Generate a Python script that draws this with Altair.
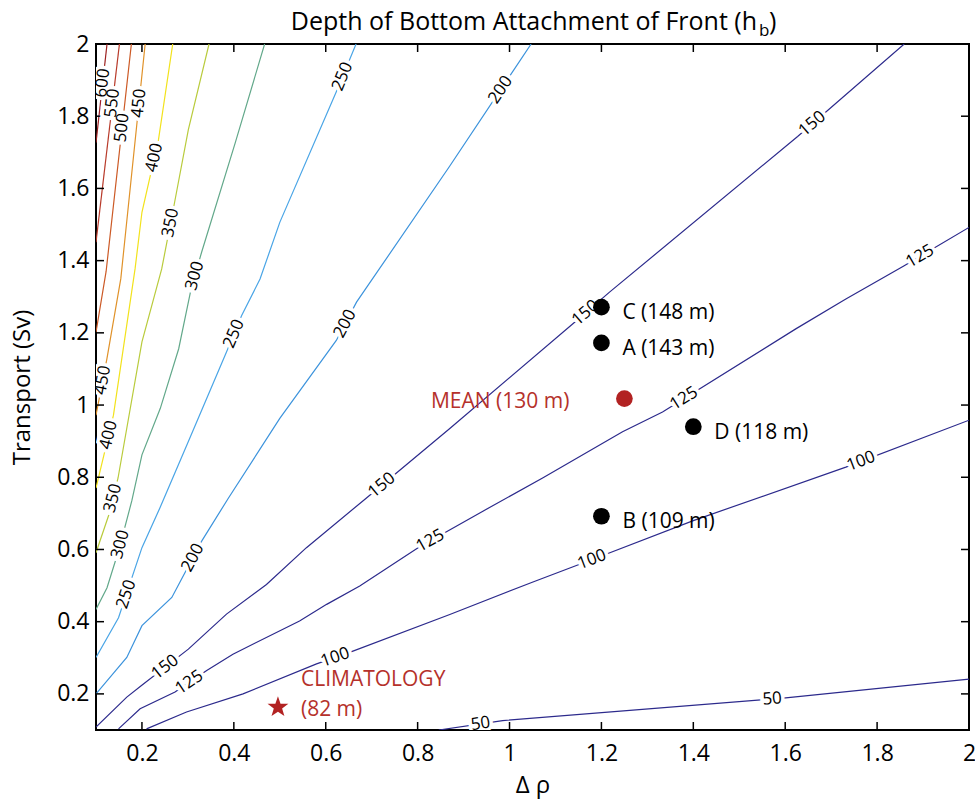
import math
import altair as alt
import pandas as pd

FONT = "Open Sans"
W, H = 873, 686

# ---------------- data ----------------
LEVELS = [50, 100, 125, 150, 200, 250, 300, 350, 400, 450, 500, 550, 600]
COLORS = ["#2c2a8c", "#2c2a8c", "#2c2a8c", "#2c2a8c", "#3c93dc", "#4aa5e6",
          "#62a88a", "#b9cb3c", "#f2e21c", "#e0922a", "#cc5a26", "#b83a2a", "#9c2020"]

# contour paths (delta rho, transport), from top to bottom
C600 = [(0.124, 2.0), (0.1, 1.727)]
C550 = [(0.151, 2.0), (0.1, 1.451)]
C500 = [(0.177, 2.0), (0.122, 1.37), (0.1, 1.202)]
C450 = [(0.207, 2.0), (0.154, 1.35), (0.124, 1.13), (0.1, 0.972)]
C400 = [(0.267, 2.0), (0.236, 1.735), (0.2, 1.534), (0.185, 1.377), (0.138, 0.972), (0.1, 0.770)]
C350 = [(0.346, 2.0), (0.301, 1.763), (0.271, 1.561), (0.243, 1.377), (0.2, 1.175),
        (0.148, 0.798), (0.128, 0.696), (0.1, 0.591)]
C300 = [(0.467, 2.0), (0.403, 1.726), (0.330, 1.424), (0.307, 1.322), (0.280, 1.156),
        (0.240, 0.991), (0.2, 0.862), (0.178, 0.735), (0.150, 0.60), (0.124, 0.494), (0.1, 0.434)]
C250 = [(0.666, 2.0), (0.623, 1.868), (0.5, 1.506), (0.457, 1.349), (0.417, 1.248),
        (0.384, 1.147), (0.301, 0.899), (0.239, 0.715), (0.2, 0.605), (0.149, 0.411), (0.1, 0.301)]
C200 = [(1.047, 2.0), (0.870, 1.662), (0.667, 1.285), (0.623, 1.179), (0.5, 0.963),
        (0.388, 0.742), (0.330, 0.623), (0.265, 0.467), (0.2, 0.389), (0.167, 0.301), (0.1, 0.2)]
C150 = [(1.859, 2.0), (1.627, 1.744), (1.217, 1.312), (1.159, 1.248), (0.870, 0.935),
        (0.688, 0.742), (0.558, 0.605), (0.471, 0.503), (0.384, 0.421), (0.301, 0.324),
        (0.199, 0.223), (0.167, 0.191), (0.1, 0.108)]
C125 = [(2.0, 1.492), (1.859, 1.386), (1.732, 1.294), (1.623, 1.211), (1.333, 0.981),
        (1.246, 0.926), (1.072, 0.798), (0.942, 0.706), (0.801, 0.605), (0.674, 0.499),
        (0.602, 0.448), (0.543, 0.402), (0.398, 0.310), (0.341, 0.265), (0.272, 0.205),
        (0.196, 0.159), (0.149, 0.103)]
C100 = [(2.0, 0.958), (1.732, 0.828), (1.4, 0.68), (1.2, 0.582), (1.051, 0.510),
        (0.870, 0.420), (0.652, 0.315), (0.580, 0.283), (0.420, 0.200), (0.297, 0.150), (0.210, 0.103)]
C50 = [(2.0, 0.241), (1.601, 0.189), (0.985, 0.126), (0.846, 0.1)]

PATHS = [C50, C100, C125, C150, C200, C250, C300, C350, C400, C450, C500, C550, C600]

# inline contour labels: (level, transport where label sits)
LABEL_LEVEL = [600, 550, 500, 450, 450, 400, 400, 350, 350, 300, 300, 250, 250, 250,
               200, 200, 200, 150, 150, 150, 150, 125, 125, 125, 125, 100, 100, 100, 50, 50]
LABEL_T = [1.892, 1.836, 1.768, 1.836, 1.069, 1.685, 0.917, 1.505, 0.742, 1.358, 0.614,
           1.91, 1.197, 0.476, 1.873, 1.225, 0.577, 1.779, 1.255, 0.778, 0.274,
           1.412, 1.018, 0.624, 0.232, 0.844, 0.572, 0.301, 0.186, 0.117]

# experiments
PT_NAMES = ["C (148 m)", "A (143 m)", "D (118 m)", "B (109 m)"]
PT_X = [1.2, 1.2, 1.4, 1.2]
PT_Y = [1.271, 1.172, 0.940, 0.692]
MEAN_NAME = ["MEAN (130 m)"]
MEAN_X = [1.25]
MEAN_Y = [1.018]
CLIM_LINES = ["CLIMATOLOGY", "(82 m)"]
CLIM_X = [0.496]
CLIM_Y = [0.163]

XTICKS = [0.2, 0.4, 0.6, 0.8, 1.0, 1.2, 1.4, 1.6, 1.8, 2.0]
YTICKS = [0.2, 0.4, 0.6, 0.8, 1.0, 1.2, 1.4, 1.6, 1.8, 2.0]

TITLE_MAIN = "Depth of Bottom Attachment of Front (h"
TITLE_SUB = "b"
TITLE_END = ")"

RED = "#b5312b"

# five-pointed star symbol path (unit size)
_star_pts = []
for k in range(10):
    r = 1.0 if k % 2 == 0 else 0.40
    a = math.radians(-90 + 36 * k)
    _star_pts.append(f"{r * math.cos(a):.3f},{r * math.sin(a):.3f}")
STAR_PATH = "M" + " L".join(_star_pts) + " Z"

# ---------------- build tables ----------------
rows = []
for lev, pts in zip(LEVELS, PATHS):
    for i, (x, y) in enumerate(pts):
        rows.append({"level": str(lev), "x": x, "y": y, "i": i})
lines_df = pd.DataFrame(rows)

sx = W / 1.9
sy = H / 1.9
lab_rows = []
for lev, t in zip(LABEL_LEVEL, LABEL_T):
    pts = PATHS[LEVELS.index(lev)]
    for (x1, y1), (x2, y2) in zip(pts[:-1], pts[1:]):
        if y1 >= t >= y2:
            f = (t - y2) / (y1 - y2) if y1 != y2 else 0.0
            x = x2 + f * (x1 - x2)
            dx = (x1 - x2) * sx
            dy = (y1 - y2) * sy
            if dx < 0:
                dx, dy = -dx, -dy
            theta = math.degrees(math.atan2(dy, dx))
            lab_rows.append({"x": x, "y": t, "label": str(lev),
                             "angle": (360 - theta) % 360})
            break
labels_df = pd.DataFrame(lab_rows)

pts_df = pd.DataFrame({"x": PT_X, "y": PT_Y, "name": PT_NAMES})
mean_df = pd.DataFrame({"x": MEAN_X, "y": MEAN_Y, "name": MEAN_NAME})
clim_df = pd.DataFrame({"x": CLIM_X, "y": CLIM_Y, "l1": [CLIM_LINES[0]], "l2": [CLIM_LINES[1]]})
xt_df = pd.DataFrame({"v": XTICKS})
yt_df = pd.DataFrame({"v": YTICKS})
title_df = pd.DataFrame({"a": [TITLE_MAIN], "b": [TITLE_SUB], "c": [TITLE_END]})

# ---------------- scales / axes ----------------
xs = alt.Scale(domain=[0.1, 2.0], nice=False, zero=False)
ys = alt.Scale(domain=[0.1, 2.0], nice=False, zero=False)
xaxis = alt.Axis(values=XTICKS, format="~g", title="Δ ρ", ticks=False, domain=False, grid=False,
                 orient="bottom",
                 labelFont=FONT, labelFontSize=23, labelColor="black", labelPadding=12,
                 labelFlush=False, labelOverlap=False,
                 titleFont=FONT, titleFontSize=24, titleFontWeight="normal", titleColor="black",
                 titleY=62, titleBaseline="alphabetic")
yaxis = alt.Axis(values=YTICKS, format="~g", title="Transport (Sv)", ticks=False, domain=False,
                 orient="left",
                 grid=False, labelFont=FONT, labelFontSize=23, labelColor="black", labelPadding=7,
                 labelFlush=False, labelOverlap=False,
                 titleFont=FONT, titleFontSize=24, titleFontWeight="normal", titleColor="black",
                 titleX=-67, titleY=H / 2, titleAngle=270, titleAlign="center",
                 titleBaseline="alphabetic")

X = alt.X("x:Q", scale=xs, axis=xaxis)
Y = alt.Y("y:Q", scale=ys, axis=yaxis)

lines = alt.Chart(lines_df).mark_line(strokeWidth=1.2, clip=True).encode(
    x=X, y=Y,
    color=alt.Color("level:N", scale=alt.Scale(domain=[str(l) for l in LEVELS], range=COLORS),
                    legend=None),
    detail="level:N",
    order=alt.Order("i:Q"),
)

tick_style = dict(color="black", strokeWidth=1.5)
xtick_b = alt.Chart(xt_df).mark_rule(**tick_style).encode(
    x=alt.X("v:Q", scale=xs, axis=xaxis), y=alt.value(H), y2=alt.value(H - 8))
xtick_t = alt.Chart(xt_df).mark_rule(**tick_style).encode(
    x=alt.X("v:Q", scale=xs, axis=xaxis), y=alt.value(0), y2=alt.value(8))
ytick_l = alt.Chart(yt_df).mark_rule(**tick_style).encode(
    y=alt.Y("v:Q", scale=ys, axis=yaxis), x=alt.value(0), x2=alt.value(8))
ytick_r = alt.Chart(yt_df).mark_rule(**tick_style).encode(
    y=alt.Y("v:Q", scale=ys, axis=yaxis), x=alt.value(W), x2=alt.value(W - 8))

halo = alt.Chart(labels_df).mark_text(font=FONT, fontSize=17, stroke="white", strokeWidth=7,
                                      color="white", clip=True, baseline="middle").encode(
    x=X, y=Y, text="label:N", angle=alt.Angle("angle:Q", scale=None))
labtxt = alt.Chart(labels_df).mark_text(font=FONT, fontSize=17, color="black", clip=True,
                                        baseline="middle").encode(
    x=X, y=Y, text="label:N", angle=alt.Angle("angle:Q", scale=None))

dots = alt.Chart(pts_df).mark_point(filled=True, shape="circle", size=280, color="black",
                                    opacity=1).encode(x=X, y=Y)
dot_txt = alt.Chart(pts_df).mark_text(font=FONT, fontSize=21, color="black", align="left",
                                      baseline="middle", dx=21, dy=6).encode(x=X, y=Y, text="name:N")
mean_dot = alt.Chart(mean_df).mark_point(filled=True, shape="circle", size=280, color="#b22222",
                                         opacity=1).encode(x=X, y=Y)
mean_txt = alt.Chart(mean_df).mark_text(font=FONT, fontSize=21, color=RED, align="right",
                                        baseline="middle", dx=-55, dy=3).encode(x=X, y=Y, text="name:N")
star = alt.Chart(clim_df).mark_point(filled=True, shape=STAR_PATH, size=480, color="#b22222",
                                     opacity=1).encode(x=X, y=Y)
clim1 = alt.Chart(clim_df).mark_text(font=FONT, fontSize=21, color=RED, align="left",
                                     baseline="middle", dx=23, dy=-27).encode(x=X, y=Y, text="l1:N")
clim2 = alt.Chart(clim_df).mark_text(font=FONT, fontSize=21, color=RED, align="left",
                                     baseline="middle", dx=23, dy=3).encode(x=X, y=Y, text="l2:N")

t1 = alt.Chart(title_df).mark_text(font=FONT, fontSize=25, color="black", align="right",
                                   baseline="alphabetic").encode(
    x=alt.value(661), y=alt.value(-14), text="a:N")
t2 = alt.Chart(title_df).mark_text(font=FONT, fontSize=17, color="black", align="left",
                                   baseline="alphabetic").encode(
    x=alt.value(663), y=alt.value(-8), text="b:N")
t3 = alt.Chart(title_df).mark_text(font=FONT, fontSize=25, color="black", align="left",
                                   baseline="alphabetic").encode(
    x=alt.value(673), y=alt.value(-14), text="c:N")

chart = alt.layer(
    lines, xtick_b, xtick_t, ytick_l, ytick_r, halo, labtxt,
    dots, dot_txt, mean_dot, mean_txt, star, clim1, clim2, t1, t2, t3,
).properties(
    width=W, height=H,
    autosize=alt.AutoSizeParams(type="none"),
    padding={"left": 96, "top": 44, "right": 6, "bottom": 73},
    background="white",
).configure_view(stroke="black", strokeWidth=2)

chart.save("out.html", embed_options={"renderer": "svg", "actions": False})
